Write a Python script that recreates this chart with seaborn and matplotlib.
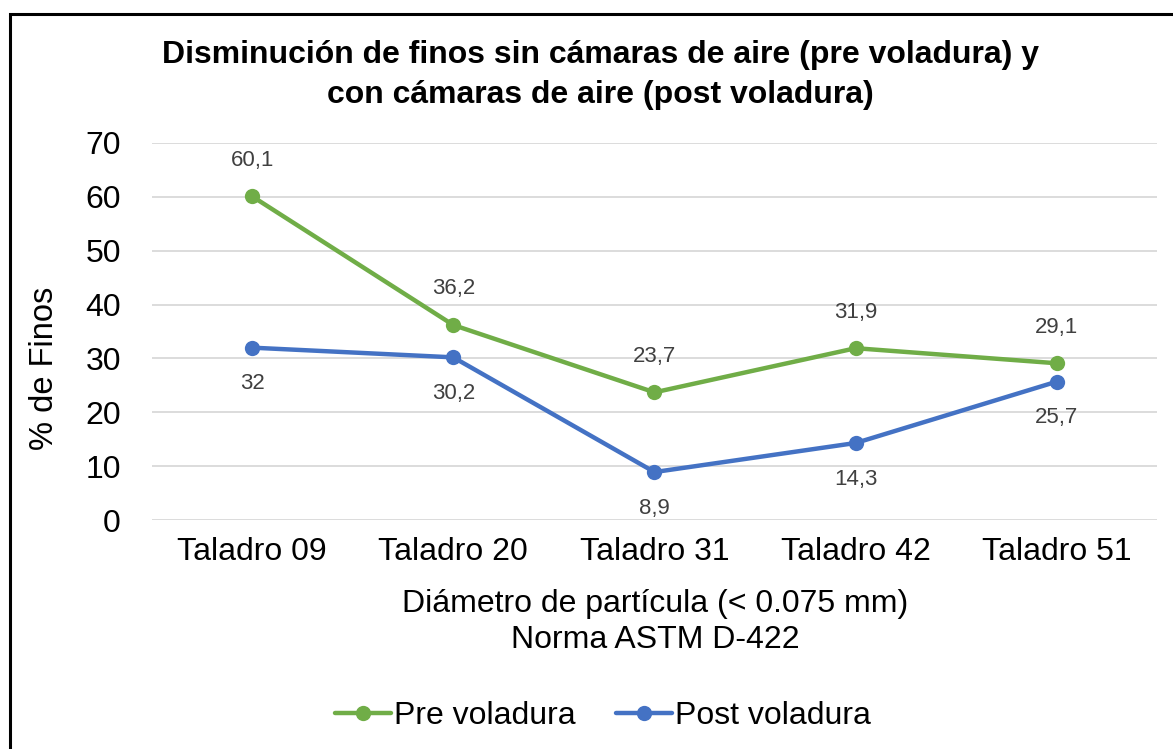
import matplotlib
matplotlib.use("Agg")
import matplotlib.pyplot as plt
import seaborn as sns
import pandas as pd
from matplotlib.patches import Rectangle

taladros = ["Taladro 09", "Taladro 20", "Taladro 31", "Taladro 42", "Taladro 51"]
pre = [60.1, 36.2, 23.7, 31.9, 29.1]
post = [32.0, 30.2, 8.9, 14.3, 25.7]
pre_labels = ["60,1", "36,2", "23,7", "31,9", "29,1"]
post_labels = ["32", "30,2", "8,9", "14,3", "25,7"]

sns.set_style("white")
plt.rcParams["font.family"] = ["Liberation Sans", "DejaVu Sans"]
plt.rcParams["text.color"] = "black"
plt.rcParams["axes.labelcolor"] = "black"

df = pd.DataFrame({
    "Taladro": taladros * 2,
    "Finos": pre + post,
    "Serie": ["Pre voladura"] * 5 + ["Post voladura"] * 5,
})
df["x"] = list(range(5)) * 2

W, H = 1173, 749
fig = plt.figure(figsize=(W / 100, H / 100), dpi=100)
ax = fig.add_axes([151.5 / W, 1 - 520 / H, 1006 / W, 377 / H])

colors = {"Pre voladura": "#70AD47", "Post voladura": "#4472C4"}
sns.lineplot(data=df, x="x", y="Finos", hue="Serie", palette=colors, marker="o",
             markersize=11, markeredgewidth=0, linewidth=3.2, ax=ax, legend=False)

ax.set_xlim(-0.5, 4.5)
ax.set_ylim(0, 70)
ax.set_yticks(range(0, 71, 10))
ax.set_xticks(range(5))
ax.set_xticklabels(taladros)
ax.tick_params(axis="both", labelsize=23, length=0, colors="black")
ax.tick_params(axis="y", pad=22)
ax.tick_params(axis="x", pad=12)
ax.grid(axis="y", color="#D9D9D9", linewidth=1.3)
ax.set_axisbelow(True)
for s in ax.spines.values():
    s.set_visible(False)

for i in range(5):
    ax.annotate(pre_labels[i], (i, pre[i]), xytext=(0, 26), textcoords="offset points",
                ha="center", va="center", fontsize=16, color="#404040")
    ax.annotate(post_labels[i], (i, post[i]), xytext=(0, -26), textcoords="offset points",
                ha="center", va="center", fontsize=16, color="#404040")

ax.set_xlabel("")
ax.set_ylabel("")
fig.text(45 / W, 1 - 368 / H, "% de Finos", rotation=90, ha="center", va="center", fontsize=23.5)
fig.text(655 / W, 1 - 622 / H, "Diámetro de partícula (< 0.075 mm)\nNorma ASTM D-422",
         ha="center", va="center", fontsize=23, linespacing=1.25)

fig.text(600 / W, 1 - 75 / H,
         "Disminución de finos sin cámaras de aire (pre voladura) y\ncon cámaras de aire (post voladura)",
         ha="center", va="center", fontsize=23, fontweight="bold", linespacing=1.4)

handles = [plt.Line2D([], [], color=colors[k], marker="o", markersize=11, linewidth=3.2,
                      markeredgewidth=0) for k in ["Pre voladura", "Post voladura"]]
fig.legend(handles, ["Pre voladura", "Post voladura"], loc="center",
           bbox_to_anchor=(603 / W, 1 - 716 / H), ncol=2, frameon=False, fontsize=23,
           handlelength=1.75, handletextpad=0.1, columnspacing=1.25)

fig.add_artist(Rectangle((10 / W, -0.05), 1.1, 1 - 14 / H + 0.05, transform=fig.transFigure,
                         fill=False, edgecolor="black", linewidth=2.2))

fig.savefig("out.png", dpi=100)
